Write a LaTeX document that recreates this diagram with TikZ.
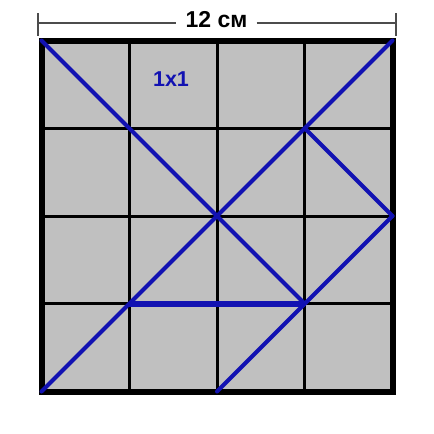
\documentclass[tikz,border=0pt]{standalone}
\usepackage{fontspec}
\setmainfont{Liberation Sans}
\definecolor{gridgray}{RGB}{192,192,192}
\definecolor{lineblue}{RGB}{18,18,178}
\begin{document}
\begin{tikzpicture}[x=1pt,y=-1pt,
  gridline/.style={black,line width=3pt},
  frameline/.style={black,line width=6pt,line join=miter},
  segline/.style={lineblue,line width=4pt,line cap=round},
  thickseg/.style={lineblue,line width=6pt},
  dimline/.style={black!70,line width=1.3pt},
  titletext/.style={font=\fontsize{23}{23}\selectfont\bfseries,inner sep=0pt},
  celltext/.style={font=\fontsize{21.5}{21.5}\selectfont\bfseries,text=lineblue,inner sep=0pt}]
\useasboundingbox (0,0) rectangle (434,434);
\fill[white] (0,0) rectangle (434,434);
\foreach \i in {0,...,4} {
  \foreach \j in {0,...,4} {
    \coordinate (p\i\j) at ({41.5+87.75*\i},{40.5+87.75*\j});
  }
}
\fill[gridgray] (p00) rectangle (p44);
\foreach \k in {1,2,3} {
  \draw[gridline] (p\k0) -- (p\k4);
  \draw[gridline] (p0\k) -- (p4\k);
}
\draw[frameline] (p00) rectangle (p44);
% blue segments
\draw[segline] (p00) -- (p33);
\draw[segline] (p04) -- (p40);
\draw[segline] (p31) -- (p42);
\draw[segline] (p42) -- (p24);
\draw[thickseg] (p13) -- (p33);
% labels
\node[celltext] (cell) at (171,79) {1x1};
\node[titletext] (title) at (216.5,20) {12 см};
\coordinate (tl) at (38,13);
\coordinate (tlb) at (38,36);
\coordinate (tr) at (396,13);
\coordinate (trb) at (396,36);
\coordinate (dl) at (38,23);
\coordinate (dr) at (396,23);
\draw[dimline] (tl) -- (tlb);
\draw[dimline] (tr) -- (trb);
\draw[dimline] (dl) -- ([xshift=-9pt]title.west |- dl);
\draw[dimline] ([xshift=9pt]title.east |- dr) -- (dr);
\end{tikzpicture}
\end{document}
